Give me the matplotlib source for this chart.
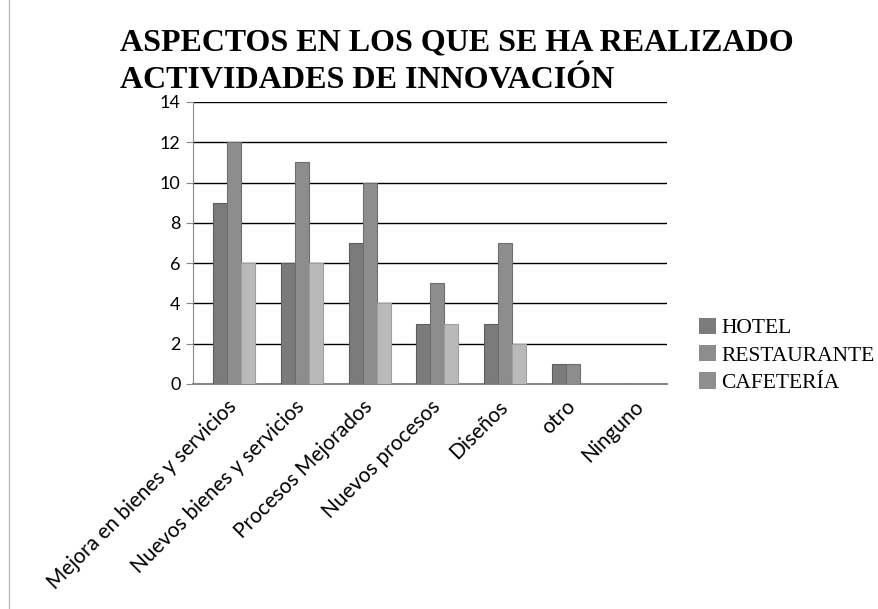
import numpy as np
import matplotlib.pyplot as plt
from matplotlib.patches import Patch
from matplotlib.lines import Line2D

categorias = ['Mejora en bienes y servicios', 'Nuevos bienes y servicios',
              'Procesos Mejorados', 'Nuevos procesos', 'Diseños', 'otro', 'Ninguno']
hotel = [9, 6, 7, 3, 3, 1, 0]
restaurante = [12, 11, 10, 5, 7, 1, 0]
cafeteria = [6, 6, 4, 3, 2, 0, 0]
series = ['HOTEL', 'RESTAURANTE', 'CAFETERÍA']

fig = plt.figure(figsize=(8.79, 6.09), dpi=100)
ax = fig.add_axes([193/879, 1 - 384/609, (667-193)/879, (384-102)/609])

x = np.arange(len(categorias))
w = 0.207
colores = ['#7b7b7b', '#8d8d8d', '#b9b9b9']
bordes = ['#5e5e5e', '#6e6e6e', '#a0a0a0']
for k, vals in enumerate([hotel, restaurante, cafeteria]):
    ax.bar(x - 0.1 + k * w, vals, width=w, color=colores[k],
           edgecolor=bordes[k], linewidth=0.8, zorder=3)

ax.set_xlim(-0.5, 6.5)
ax.set_ylim(0, 14)
ax.set_yticks(range(0, 15, 2))
ax.yaxis.grid(True, color='black', linewidth=1.0, zorder=0)
ax.set_axisbelow(True)
for s in ['top', 'right']:
    ax.spines[s].set_visible(False)
ax.spines['left'].set_color('#888888')
ax.spines['bottom'].set_color('#888888')
ax.spines['bottom'].set_linewidth(1.5)
ax.tick_params(axis='y', length=5, color='#888888', labelsize=13, pad=4)
ax.tick_params(axis='x', length=0, pad=9)
for lbl in ax.get_yticklabels():
    lbl.set_fontfamily('Lato')
ax.set_xticks(x)
ax.set_xticklabels(categorias, rotation=45, ha='right', rotation_mode='anchor',
                   fontfamily='Lato', fontsize=15)

fig.text(120/879, 1 - 28/609, 'ASPECTOS EN LOS QUE SE HA REALIZADO\nACTIVIDADES DE INNOVACIÓN',
         fontfamily='Liberation Serif', fontweight='bold', fontsize=23,
         va='top', ha='left', linespacing=1.4)

handles = [Patch(facecolor=c, edgecolor='none') for c in ['#7b7b7b', '#8d8d8d', '#8f8f8f']]
fig.legend(handles, series, loc='upper left', bbox_to_anchor=(688/879, 1 - 307/609),
           frameon=False, prop={'family': 'Liberation Serif', 'size': 15.5},
           handlelength=0.8, handleheight=0.8, handletextpad=0.25, labelspacing=0.3,
           borderpad=0)

fig.add_artist(Line2D([9/879, 9/879], [0, 1], color='#bbbbbb', linewidth=1))

fig.savefig('out.png', dpi=100)
